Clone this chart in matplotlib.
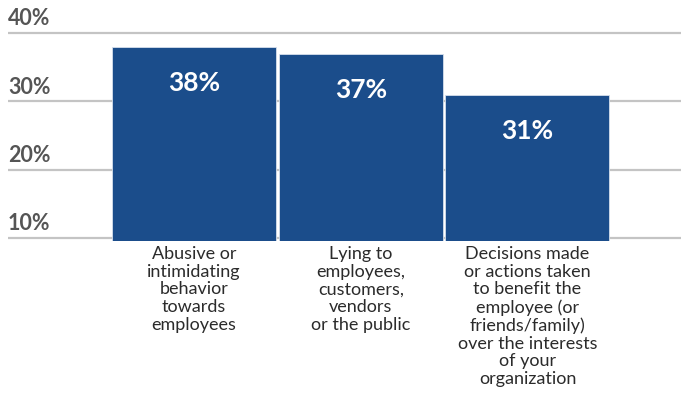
import matplotlib
matplotlib.use("Agg")
import matplotlib.pyplot as plt

categories = [
    "Abusive or\nintimidating\nbehavior\ntowards\nemployees",
    "Lying to\nemployees,\ncustomers,\nvendors\nor the public",
    "Decisions made\nor actions taken\nto benefit the\nemployee (or\nfriends/family)\nover the interests\nof your\norganization",
]
values = [38, 37, 31]
y_ticks = [10, 20, 30, 40]
y_tick_labels = ["10%", "20%", "30%", "40%"]

BAR_COLOR = "#1b4d8b"
GRID_COLOR = "#c4c4c4"
TICK_COLOR = "#555555"
CAT_COLOR = "#2b2b2b"

W, H = 681, 395
fig = plt.figure(figsize=(W / 100, H / 100), dpi=100)
ax = fig.add_axes([8 / W, 154 / H, 673 / W, 241 / H])

x = list(range(len(values)))
ax.set_xlim(-1.116, 2.921)
ax.set_ylim(9.56, 44.83)

# horizontal guide lines with their labels above, at the left edge
for t, lab in zip(y_ticks, y_tick_labels):
    ax.axhline(t, color=GRID_COLOR, lw=1.6, zorder=0)
    ax.annotate(lab, xy=(0, t), xycoords=("axes fraction", "data"),
                xytext=(0, 5.5), textcoords="offset points",
                ha="left", va="baseline", fontsize=15.5, fontweight="bold",
                family="Lato", color=TICK_COLOR)

ax.bar(x, values, width=0.984, color=BAR_COLOR, edgecolor="#d5dfec",
       linewidth=0.6, zorder=2)

# value labels inside the bars
for xi, v in zip(x, values):
    ax.annotate(f"{v}%", xy=(xi, v), xytext=(0, -26), textcoords="offset points",
                ha="center", va="center", fontsize=19, fontweight="bold",
                family="Lato", color="white", zorder=3)

# category labels beneath the bars
for xi, c in zip(x, categories):
    ax.annotate(c, xy=(xi, 9.56), xytext=(0, -3.5), textcoords="offset points",
                ha="center", va="top", multialignment="center",
                fontsize=13, family="Lato", color=CAT_COLOR, linespacing=1.13,
                annotation_clip=False)

for s in ax.spines.values():
    s.set_visible(False)
ax.set_xticks([])
ax.set_yticks([])

fig.savefig("out.png", dpi=100)
